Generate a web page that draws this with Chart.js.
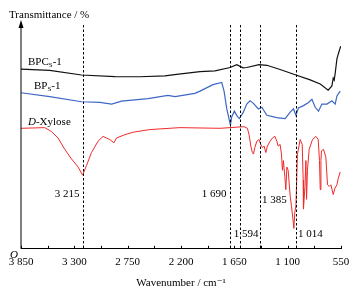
<!DOCTYPE html>
<html>
<head>
<meta charset="utf-8">
<script src="https://cdn.jsdelivr.net/npm/chart.js@4/dist/chart.umd.min.js"></script>
<style>
  html, body { margin: 0; padding: 0; background: #fff; }
  #ftir { display: block; }
</style>
</head>
<body>
<canvas id="ftir" width="360" height="295"></canvas>
<script>
// Espectros FTIR (unidades relativas)
const bpcsWave = [3850, 3554, 3226, 2882, 2624, 2366, 2245, 2004, 1849, 1694, 1625, 1560, 1522, 1395, 1315, 1178, 1015, 868, 764, 682, 644, 630, 620, 610, 592, 578, 553];
const bpcsT    = [185.3, 184, 179.3, 177.7, 177.5, 178.3, 180, 182.7, 183.5, 187, 190, 186.7, 187, 190, 189.3, 185, 179.3, 174.3, 170, 163.7, 168, 176, 174, 181, 196, 201, 209];

const bpsWave = [3850, 3554, 3226, 3037, 2916, 2813, 2541, 2335, 2262, 2056, 2004, 1870, 1780, 1756, 1728, 1690, 1677, 1650, 1619, 1598, 1557, 1522, 1488, 1453, 1402, 1367, 1315, 1212, 1126, 1074, 1040, 1015, 989, 937, 885, 850, 816, 782, 747, 695, 644, 610, 592, 558];
const bpsT    = [161, 157, 151.7, 151, 149.3, 152.3, 155, 158.3, 157, 160.3, 162.7, 169.3, 171.7, 162.7, 144.3, 127.7, 136, 142, 136.7, 134.3, 141, 149.3, 152.7, 150, 144.3, 146, 137.7, 135.3, 134.3, 141, 144.3, 137.7, 145.3, 147.7, 151, 154.3, 146, 142, 149.3, 149.3, 152.7, 149.3, 157.7, 162.7];

const xyloseWave = [3850, 3605, 3536, 3468, 3399, 3329, 3261, 3215, 3174, 3123, 3055, 3003, 2968, 2934, 2892, 2865, 2779, 2693, 2521, 2211, 1797, 1550, 1515, 1498, 1480, 1464, 1453, 1439, 1418, 1395, 1377, 1360, 1343, 1325, 1309, 1281, 1257, 1232, 1212, 1198, 1178, 1164, 1154, 1144, 1129, 1119, 1108, 1095, 1074, 1061, 1046, 1036, 1026, 1015, 999, 971, 950, 940, 937, 922, 912, 905, 896, 878, 844, 809, 785, 772, 764, 757, 751, 730, 706, 689, 671, 654, 630, 612, 592, 578, 558];
const xyloseT    = [124.3, 125, 121, 114.3, 102.7, 92.7, 84.3, 76, 86, 99.3, 111, 116, 114.3, 112.7, 109.3, 114.3, 117.7, 120.3, 123, 125, 124.3, 126, 124.3, 117.7, 106, 99.3, 97.7, 104.3, 111, 112.7, 107.7, 104.3, 106, 99.3, 106, 111, 114.3, 116, 111, 106, 107.7, 97.7, 81, 91, 74.3, 61, 84.3, 81, 54.3, 44.3, 31, 21, 37.7, 44.3, 97.7, 112.7, 107.7, 71, 41, 64.3, 91, 51, 81, 102.7, 112.7, 116, 112.7, 91, 61, 91, 101, 102.7, 94.3, 66, 64.3, 66, 56, 62.7, 66, 72.7, 79.3];

// Bandas marcadas con línea discontinua
const peakWaves  = [3215, 1690, 1594, 1385, 1014];
const peakLabels = ['3 215', '1 690', '1 594', '1 385', '1 014'];

// Eje X
const xMin = 550, xMax = 3850, xStep = 275, xLabelStep = 550;

const toPoints = (w, t) => w.map((x, i) => ({ x: x, y: t[i] }));
const fmt = v => String(v).replace(/\B(?=(\d{3})+(?!\d))/g, ' ');
const SERIF = '"Liberation Serif", "DejaVu Serif", serif';

// Ejes, flecha, líneas discontinuas y textos
const decor = {
  id: 'decor',
  afterDraw(chart) {
    const ctx = chart.ctx;
    const xs = chart.scales.x;
    const area = chart.chartArea;
    const x0 = area.left, y0 = area.bottom;
    ctx.save();
    ctx.strokeStyle = '#000';
    ctx.fillStyle = '#000';
    ctx.lineWidth = 1;

    // eje Y con flecha
    ctx.beginPath();
    ctx.moveTo(x0, y0);
    ctx.lineTo(x0, 26);
    ctx.stroke();
    ctx.beginPath();
    ctx.moveTo(x0, 20);
    ctx.lineTo(x0 - 2.5, 28);
    ctx.lineTo(x0 + 2.5, 28);
    ctx.closePath();
    ctx.fill();

    // marcas del eje X hacia dentro
    for (let v = xMin; v <= xMax; v += xStep) {
      const px = Math.round(xs.getPixelForValue(v)) + 0.5;
      ctx.beginPath();
      ctx.moveTo(px, y0);
      ctx.lineTo(px, y0 - 3);
      ctx.stroke();
    }

    // líneas discontinuas de las bandas
    ctx.setLineDash([2.5, 2]);
    peakWaves.forEach(w => {
      const px = Math.round(xs.getPixelForValue(w)) + 0.5;
      ctx.beginPath();
      ctx.moveTo(px, 25);
      ctx.lineTo(px, y0);
      ctx.stroke();
    });
    ctx.setLineDash([]);

    ctx.font = '11px ' + SERIF;
    ctx.textBaseline = 'middle';

    // etiquetas de bandas
    const lp = [
      { dx: -3, y: 194, align: 'right' },
      { dx: -4, y: 194, align: 'right' },
      { dx: -6, y: 234, align: 'left' },
      { dx: 2, y: 200, align: 'left' },
      { dx: 2, y: 234, align: 'left' }
    ];
    peakWaves.forEach((w, i) => {
      const px = xs.getPixelForValue(w);
      ctx.textAlign = lp[i].align;
      ctx.fillText(peakLabels[i], px + lp[i].dx, lp[i].y);
    });

    // título del eje Y
    ctx.textAlign = 'left';
    ctx.fillText('Transmittance / %', 9, 15);

    // origen
    ctx.font = 'italic 11px ' + SERIF;
    ctx.fillText('O', 10, 255);

    // nombres de las curvas
    const sub = (x, y, base, s, rest) => {
      ctx.font = '11px ' + SERIF;
      ctx.fillText(base, x, y);
      let cx = x + ctx.measureText(base).width;
      ctx.font = '7px ' + SERIF;
      ctx.fillText(s, cx, y + 3);
      cx += ctx.measureText(s).width;
      ctx.font = '11px ' + SERIF;
      ctx.fillText(rest, cx, y);
    };
    sub(28, 62, 'BPC', 'S', '-1');
    sub(34, 86, 'BP', 'S', '-1');
    ctx.font = 'italic 11px ' + SERIF;
    ctx.fillText('D', 28, 122);
    const dw = ctx.measureText('D').width;
    ctx.font = '11px ' + SERIF;
    ctx.fillText('-Xylose', 28 + dw, 122);

    ctx.restore();
  }
};

const ctx = document.getElementById('ftir').getContext('2d');
const chart = new Chart(ctx, {
  type: 'line',
  data: {
    datasets: [
      {
        label: 'BPCs-1',
        data: toPoints(bpcsWave, bpcsT),
        borderColor: '#111111',
        borderWidth: 1.2,
        pointRadius: 0,
        tension: 0
      },
      {
        label: 'BPs-1',
        data: toPoints(bpsWave, bpsT),
        borderColor: '#3d67c4',
        borderWidth: 1.2,
        pointRadius: 0,
        tension: 0
      },
      {
        label: 'D-Xylose',
        data: toPoints(xyloseWave, xyloseT),
        borderColor: '#f02a2a',
        borderWidth: 1,
        pointRadius: 0,
        tension: 0
      }
    ]
  },
  options: {
    responsive: false,
    animation: false,
    devicePixelRatio: 1,
    layout: { padding: { left: 21, right: 19, top: 21, bottom: 5 } },
    plugins: { legend: { display: false }, tooltip: { enabled: false } },
    scales: {
      x: {
        type: 'linear',
        reverse: true,
        min: xMin,
        max: xMax,
        grid: { display: false, drawTicks: false },
        border: { display: true, color: '#000', width: 1 },
        ticks: {
          stepSize: xStep,
          autoSkip: false,
          maxRotation: 0,
          padding: 8,
          color: '#000',
          font: { family: SERIF, size: 11, lineHeight: 1 },
          callback: v => (v % xLabelStep === 0 ? fmt(v) : '')
        },
        title: {
          display: true,
          text: 'Wavenumber / cm⁻¹',
          color: '#000',
          font: { family: SERIF, size: 11 },
          padding: { top: 1, bottom: 0 }
        }
      },
      y: {
        display: false,
        min: 0,
        max: 235
      }
    }
  },
  plugins: [decor]
});
</script>
</body>
</html>
